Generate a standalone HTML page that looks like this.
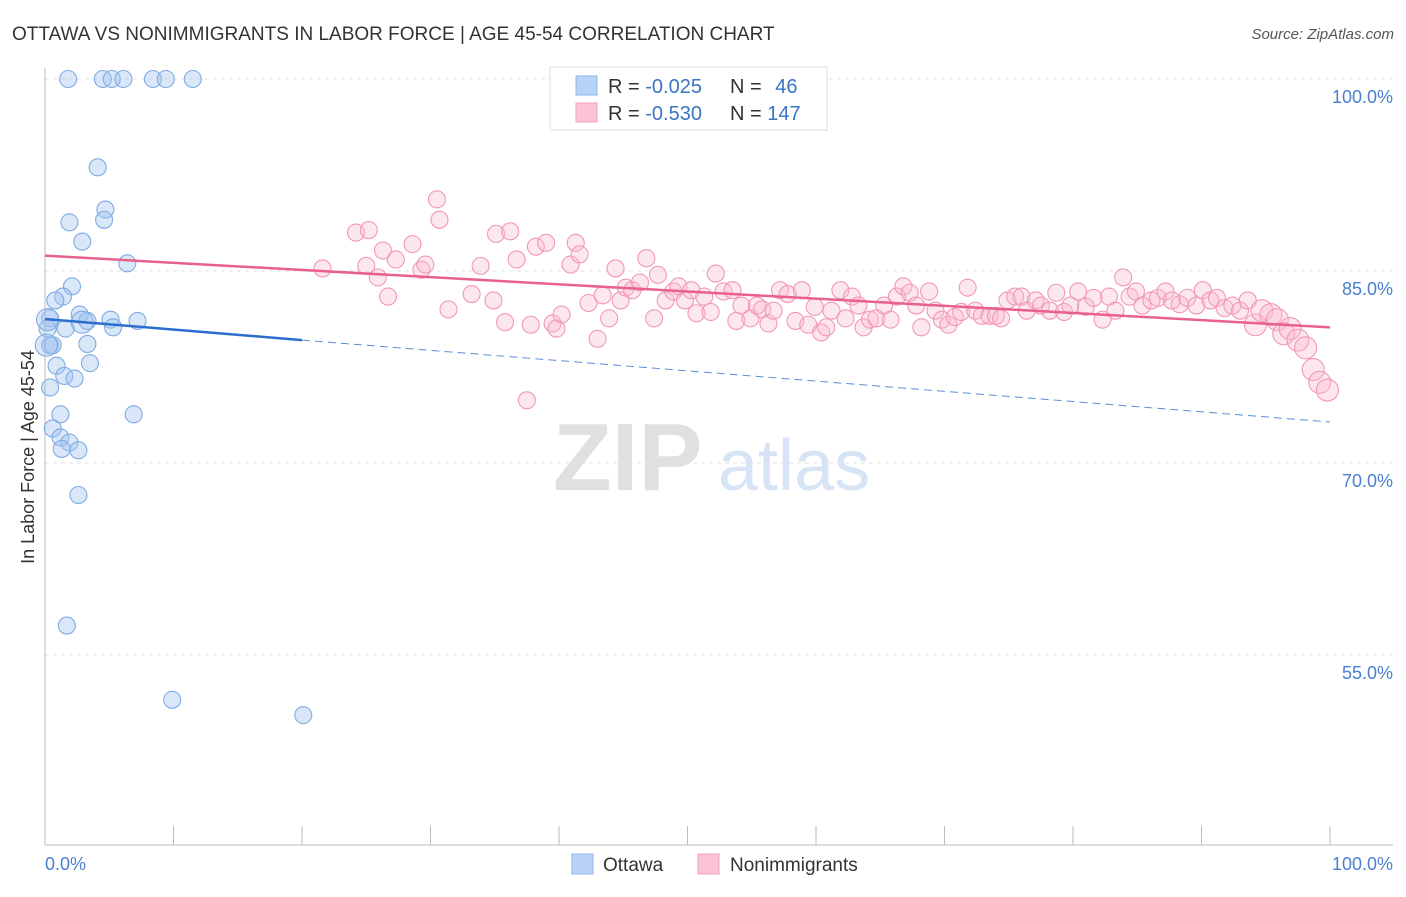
<!DOCTYPE html>
<html><head><meta charset="utf-8"><style>
body{margin:0;background:#fff;font-family:"Liberation Sans",sans-serif;}
svg text{font-family:"Liberation Sans",sans-serif;}
</style></head><body>
<svg id="chart" width="1406" height="892" xmlns="http://www.w3.org/2000/svg">
<text x="12" y="40" font-size="19" fill="#333">OTTAWA VS NONIMMIGRANTS IN LABOR FORCE | AGE 45-54 CORRELATION CHART</text>
<text x="1394" y="39" font-size="15" fill="#555" font-style="italic" text-anchor="end">Source: ZipAtlas.com</text>
<g>
<text x="553" y="490" font-size="96" fill="#e0e0e0" font-family="Liberation Serif" font-weight="bold">ZIP</text>
<text x="718" y="490" font-size="72" fill="#d6e4f5">atlas</text>
</g>
<g id="grid"></g><g id="axes"></g>
<g id="blue"></g><g id="pink"></g><g id="trends"></g>
<text transform="translate(34,457) rotate(-90)" font-size="18" fill="#333" text-anchor="middle">In Labor Force | Age 45-54</text>
<g>
<rect x="550" y="67" width="277" height="63" fill="#fff" stroke="#ddd"/>
<rect x="576" y="76" width="21" height="19" fill="#b8d3f5" stroke="#8db4e8"/>
<rect x="576" y="103" width="21" height="19" fill="#fbc4d4" stroke="#f0a0b8"/>
<text x="608" y="93" font-size="20" fill="#333">R = <tspan fill="#3a75c4">-0.025</tspan></text>
<text x="730" y="93" font-size="20" fill="#333">N = <tspan fill="#3a75c4" dx="8">46</tspan></text>
<text x="608" y="120" font-size="20" fill="#333">R = <tspan fill="#3a75c4">-0.530</tspan></text>
<text x="730" y="120" font-size="20" fill="#333">N = <tspan fill="#3a75c4">147</tspan></text>
</g>
<g>
<rect x="572" y="854" width="21" height="20" fill="#b8d3f5" stroke="#8db4e8"/>
<text x="603" y="871" font-size="19" fill="#333">Ottawa</text>
<rect x="698" y="854" width="21" height="20" fill="#fbc4d4" stroke="#f0a0b8"/>
<text x="730" y="871" font-size="19" fill="#333">Nonimmigrants</text>
</g>
</svg>
<script>
const yTicks=[100,85,70,55];
const xTickLabels=["0.0%","100.0%"];
const blueX=[1.8,4.5,5.2,6.1,8.4,9.4,11.5,4.1,4.7,4.6,1.9,2.9,6.4,2.1,1.4,0.8,2.7,0.4,3.3,5.1,7.2,5.3,1.6,0.2,3.3,0.4,0.6,3.5,0.9,1.5,2.3,0.4,1.2,6.9,0.6,1.2,1.9,1.3,2.6,2.6,1.7,9.9,20.1,0.2,0.1,2.9];
const blueY=[100,100,100,100,100,100,100,93.1,89.8,89.0,88.8,87.3,85.6,83.8,83.0,82.7,81.6,81.3,81.1,81.2,81.1,80.6,80.5,80.5,79.3,79.2,79.2,77.8,77.6,76.8,76.6,75.9,73.8,73.8,72.7,72.0,71.6,71.1,71.0,67.5,57.3,51.5,50.3,81.2,79.2,81.0];
const pinkX=[21.6,24.2,25.2,25.0,25.9,26.3,26.7,27.3,28.6,29.3,29.6,30.5,30.7,31.4,33.2,33.9,34.9,35.1,35.8,36.2,36.7,37.5,37.8,38.2,39.0,39.5,39.8,40.2,40.9,41.3,41.6,42.3,43.0,43.4,43.9,44.4,44.8,45.2,45.7,46.3,46.8,47.4,47.7,48.3,48.9,49.3,49.8,50.3,50.7,51.3,51.8,52.2,52.8,53.5,53.8,54.2,54.9,55.4,55.8,56.3,56.7,57.2,57.8,58.4,58.9,59.4,59.9,60.4,60.8,61.2,61.9,62.3,62.8,63.3,63.7,64.2,64.7,65.3,65.8,66.3,66.8,67.3,67.8,68.2,68.8,69.3,69.8,70.3,70.8,71.3,71.8,72.4,72.9,73.5,74.0,74.4,74.9,75.5,76.0,76.4,77.1,77.5,78.2,78.7,79.3,79.8,80.4,81.0,81.6,82.3,82.8,83.3,83.9,84.4,84.9,85.4,86.1,86.6,87.2,87.7,88.3,88.9,89.6,90.1,90.7,91.2,91.8,92.4,93.0,93.6,94.2,94.7,95.4,95.9,96.4,96.9,97.5,98.1,98.7,99.2,99.8];
const pinkY=[85.2,88.0,88.2,85.4,84.5,86.6,83.0,85.9,87.1,85.1,85.5,90.6,89.0,82.0,83.2,85.4,82.7,87.9,81.0,88.1,85.9,74.9,80.8,86.9,87.2,80.9,80.5,81.6,85.5,87.2,86.3,82.5,79.7,83.1,81.3,85.2,82.7,83.7,83.5,84.1,86.0,81.3,84.7,82.7,83.4,83.8,82.7,83.5,81.7,83.0,81.8,84.8,83.4,83.5,81.1,82.3,81.3,82.3,82.0,80.9,81.9,83.5,83.2,81.1,83.5,80.8,82.2,80.2,80.6,81.9,83.5,81.3,83.0,82.3,80.6,81.2,81.3,82.3,81.2,83.0,83.8,83.3,82.3,80.6,83.4,81.9,81.2,80.8,81.4,81.8,83.7,81.9,81.5,81.5,81.5,81.3,82.7,83.0,83.0,81.9,82.7,82.3,81.9,83.3,81.8,82.3,83.4,82.2,82.9,81.2,83.0,81.9,84.5,83.0,83.4,82.3,82.7,82.9,83.4,82.7,82.4,82.9,82.3,83.5,82.7,82.9,82.1,82.3,81.9,82.7,80.8,81.9,81.6,81.2,80.1,80.5,79.6,79.0,77.3,76.3,75.7];
const blueTrend=[81.25,79.6,73.2];
const pinkTrend=[86.2,80.6];
const NS="http://www.w3.org/2000/svg";
const X=v=>45+v*12.85, Y=v=>79+(100-v)*12.8;
function mk(t,p,a){const e=document.createElementNS(NS,t);for(const k in a)e.setAttribute(k,a[k]);p.appendChild(e);return e;}
const grid=document.getElementById('grid'),axes=document.getElementById('axes');
yTicks.forEach(t=>{
 const l=mk('line',grid,{x1:45,x2:1393,y1:Y(t),y2:Y(t),stroke:'#e2e2e2','stroke-dasharray':'4,4'});
 
 
 const tx=mk('text',grid,{x:1393,y:Y(t)+24,'font-size':18,fill:'#4a7fd0','text-anchor':'end'});
 tx.textContent=t.toFixed(1)+'%';
 
 
});
const ax=mk('line',axes,{x1:45,x2:1393,y1:845,y2:845,stroke:'#bbb'});


const yax=mk('line',axes,{x1:45,x2:45,y1:68,y2:845,stroke:'#bbb'});


for(let i=0;i<=10;i++){const t=mk('line',axes,{x1:X(i*10),x2:X(i*10),y1:826,y2:845,stroke:'#bbb'});
 
 }
[[0,'start',45],[100,'end',1393]].forEach((d,i)=>{const t=mk('text',axes,{x:d[2],y:870,'font-size':18,fill:'#4a7fd0','text-anchor':d[1]});t.textContent=xTickLabels[i];
 
 });
const bg=document.getElementById('blue');
blueX.forEach((v,i)=>{const c=mk('circle',bg,{cx:X(v),cy:Y(blueY[i]),r:i>=43?11:8.5,fill:'rgba(160,196,240,0.4)',stroke:'#80ace2','stroke-width':1.1});
 
 });
const pg=document.getElementById('pink');
pinkX.forEach((v,i)=>{const c=mk('circle',pg,{cx:X(v),cy:Y(pinkY[i]),r:v>94?11:8.5,fill:'rgba(248,185,205,0.35)',stroke:'#f298b5','stroke-width':1.1});
 
 });
const tg=document.getElementById('trends');
const b1=mk('line',tg,{x1:X(0),y1:Y(blueTrend[0]),x2:X(20),y2:Y(blueTrend[1]),stroke:'#2a6fd0','stroke-width':2.5});


const b2=mk('line',tg,{x1:X(20),y1:Y(blueTrend[1]),x2:X(100),y2:Y(blueTrend[2]),stroke:'#5a8fd8','stroke-width':1,'stroke-dasharray':'8,5'});


const p1=mk('line',tg,{x1:X(0),y1:Y(pinkTrend[0]),x2:X(100),y2:Y(pinkTrend[1]),stroke:'#e8608c','stroke-width':2.5});


</script>
</body></html>
